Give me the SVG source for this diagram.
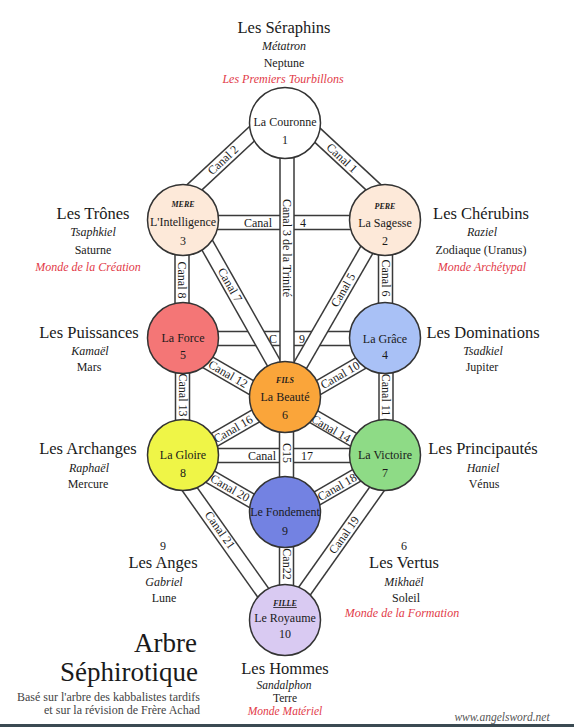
<svg xmlns="http://www.w3.org/2000/svg" xmlns:xlink="http://www.w3.org/1999/xlink" width="574" height="727" viewBox="0 0 574 727">
<style>
  text{font-family:"Liberation Serif","DejaVu Serif",serif;fill:#1a1a1a;text-anchor:middle}
  .edge{fill:none;stroke:#3a3a3a;stroke-width:15.5}
  .fill{fill:none;stroke:#fff;stroke-width:12.5}
  .cl{font-size:12px}
  .node circle{stroke:#333;stroke-width:1.5}
  .nl{font-size:12px}
  .sm{font-size:8px;font-style:italic;font-weight:bold}
  .h{font-size:16.5px}
  .t{font-size:12px}
  .b{font-size:11.5px}
  .it{font-style:italic}
  .red{fill:#e23a48;font-style:italic}
  .ttl{font-size:27px;text-anchor:end}
  .sub{font-size:12px;fill:#444;text-anchor:end}
  .url{font-size:11.5px;font-style:italic;fill:#555}
</style>
<defs>
  <path id="p1" d="M300 119L385 198"/>
  <path id="p2" d="M270 117L183 198"/>
  <path id="p3" d="M287 123V397"/>
  <path id="p4" d="M183 222.5H385"/>
  <path id="p5" d="M384 220L282 397"/>
  <path id="p6" d="M385.5 220V338"/>
  <path id="p7" d="M193 220L293 397"/>
  <path id="p8" d="M182 220V338"/>
  <path id="p9" d="M183 338.5H385"/>
  <path id="p10" d="M385 349L285 407"/>
  <path id="p11" d="M386 338V455"/>
  <path id="p12" d="M183 348L285 407"/>
  <path id="p13" d="M182.5 338V455"/>
  <path id="p14" d="M285 400L385 458"/>
  <path id="p15" d="M286.5 397V512"/>
  <path id="p16" d="M183 458L285 399"/>
  <path id="p17" d="M183 455.5H385"/>
  <path id="p18" d="M385 459L285 517"/>
  <path id="p19" d="M401 455L284 620"/>
  <path id="p20" d="M183 461L285 520"/>
  <path id="p21" d="M165.5 455L282.5 620"/>
  <path id="p22" d="M286.5 512V620"/>
</defs>
<rect width="574" height="727" fill="#fff"/>

<g id="connectors">
  <g id="canal-4"><use xlink:href="#p4" class="edge"/><use xlink:href="#p4" class="fill"/>
    <text class="cl" x="258" y="226.5">Canal</text><text class="cl" x="303" y="226.5">4</text></g>
  <g id="canal-9"><use xlink:href="#p9" class="edge"/><use xlink:href="#p9" class="fill"/>
    <text class="cl" x="273" y="342.5">C</text><text class="cl" x="302" y="342.5">9</text></g>
  <g id="canal-17"><use xlink:href="#p17" class="edge"/><use xlink:href="#p17" class="fill"/>
    <text class="cl" x="262" y="459.5">Canal</text><text class="cl" x="307" y="459.5">17</text></g>
  <g id="canal-1"><use xlink:href="#p1" class="edge"/><use xlink:href="#p1" class="fill"/>
    <text class="cl" transform="translate(342,158) rotate(43)" y="4">Canal 1</text></g>
  <g id="canal-2"><use xlink:href="#p2" class="edge"/><use xlink:href="#p2" class="fill"/>
    <text class="cl" transform="translate(223,160) rotate(-43)" y="4">Canal 2</text></g>
  <g id="canal-5"><use xlink:href="#p5" class="edge"/><use xlink:href="#p5" class="fill"/>
    <text class="cl" transform="translate(343,290) rotate(-60)" y="4">Canal 5</text></g>
  <g id="canal-7"><use xlink:href="#p7" class="edge"/><use xlink:href="#p7" class="fill"/>
    <text class="cl" transform="translate(230,285) rotate(60.5)" y="4">Canal 7</text></g>
  <g id="canal-10"><use xlink:href="#p10" class="edge"/><use xlink:href="#p10" class="fill"/>
    <text class="cl" transform="translate(340,375) rotate(-30)" y="4">Canal 10</text></g>
  <g id="canal-12"><use xlink:href="#p12" class="edge"/><use xlink:href="#p12" class="fill"/>
    <text class="cl" transform="translate(228,374) rotate(30)" y="4">Canal 12</text></g>
  <g id="canal-14"><use xlink:href="#p14" class="edge"/><use xlink:href="#p14" class="fill"/>
    <text class="cl" transform="translate(331,428.5) rotate(30)" y="4">Canal 14</text></g>
  <g id="canal-16"><use xlink:href="#p16" class="edge"/><use xlink:href="#p16" class="fill"/>
    <text class="cl" transform="translate(233,429) rotate(-30)" y="4">Canal 16</text></g>
  <g id="canal-18"><use xlink:href="#p18" class="edge"/><use xlink:href="#p18" class="fill"/>
    <text class="cl" transform="translate(337,487) rotate(-30)" y="4">Canal 18</text></g>
  <g id="canal-20"><use xlink:href="#p20" class="edge"/><use xlink:href="#p20" class="fill"/>
    <text class="cl" transform="translate(230,488) rotate(30)" y="4">Canal 20</text></g>
  <g id="canal-19"><use xlink:href="#p19" class="edge"/><use xlink:href="#p19" class="fill"/>
    <text class="cl" transform="translate(344,535) rotate(-54.7)" y="4">Canal 19</text></g>
  <g id="canal-21"><use xlink:href="#p21" class="edge"/><use xlink:href="#p21" class="fill"/>
    <text class="cl" transform="translate(220,530) rotate(54.7)" y="4">Canal 21</text></g>
  <g id="canal-3"><use xlink:href="#p3" class="edge"/><use xlink:href="#p3" class="fill"/>
    <text class="cl" transform="translate(287,248) rotate(90)" y="4">Canal 3 de la Trinité</text></g>
  <g id="canal-6"><use xlink:href="#p6" class="edge"/><use xlink:href="#p6" class="fill"/>
    <text class="cl" transform="translate(385.5,278) rotate(90)" y="4">Canal 6</text></g>
  <g id="canal-8"><use xlink:href="#p8" class="edge"/><use xlink:href="#p8" class="fill"/>
    <text class="cl" transform="translate(182,280) rotate(90)" y="4">Canal 8</text></g>
  <g id="canal-11"><use xlink:href="#p11" class="edge"/><use xlink:href="#p11" class="fill"/>
    <text class="cl" transform="translate(386,395) rotate(90)" y="4">Canal 11</text></g>
  <g id="canal-13"><use xlink:href="#p13" class="edge"/><use xlink:href="#p13" class="fill"/>
    <text class="cl" transform="translate(182.5,395) rotate(90)" y="4">Canal 13</text></g>
  <g id="canal-15"><use xlink:href="#p15" class="edge"/><use xlink:href="#p15" class="fill"/>
    <text class="cl" transform="translate(286.5,453) rotate(90)" y="4">C15</text></g>
  <g id="canal-22"><use xlink:href="#p22" class="edge"/><use xlink:href="#p22" class="fill"/>
    <text class="cl" transform="translate(286.5,564) rotate(90)" y="4">Can22</text></g>
</g>

<g id="n1" class="node"><circle cx="285" cy="123" r="35.5" fill="#ffffff"/>
  <text class="nl" x="285" y="126">La Couronne</text><text class="nl" x="285" y="144">1</text></g>
<g id="n3" class="node"><circle cx="183" cy="220" r="35.5" fill="#fde9d9"/>
  <text class="sm" x="183" y="207">MERE</text><text class="nl" x="183" y="226">L'Intelligence</text><text class="nl" x="183" y="245">3</text></g>
<g id="n2" class="node"><circle cx="385" cy="220" r="35.5" fill="#fde9d9"/>
  <text class="sm" x="385" y="209">PERE</text><text class="nl" x="385" y="227">La Sagesse</text><text class="nl" x="385" y="245">2</text></g>
<g id="n5" class="node"><circle cx="183" cy="338" r="35.5" fill="#f47676"/>
  <text class="nl" x="183" y="342">La Force</text><text class="nl" x="183" y="359">5</text></g>
<g id="n4" class="node"><circle cx="385" cy="338" r="35.5" fill="#a9c1f6"/>
  <text class="nl" x="385" y="343">La Grâce</text><text class="nl" x="385" y="359">4</text></g>
<g id="n6" class="node"><circle cx="285" cy="397" r="35.5" fill="#faa53a"/>
  <text class="sm" x="285" y="383">FILS</text><text class="nl" x="285" y="401">La Beauté</text><text class="nl" x="285" y="419">6</text></g>
<g id="n8" class="node"><circle cx="183" cy="455" r="35.5" fill="#eff547"/>
  <text class="nl" x="183" y="459">La Gloire</text><text class="nl" x="183" y="477">8</text></g>
<g id="n7" class="node"><circle cx="385" cy="455" r="35.5" fill="#8edb86"/>
  <text class="nl" x="385" y="459">La Victoire</text><text class="nl" x="385" y="477">7</text></g>
<g id="n9" class="node"><circle cx="285" cy="512" r="35.5" fill="#7382e2"/>
  <text class="nl" x="285" y="516" font-size="11.5">Le Fondement</text><text class="nl" x="285" y="535">9</text></g>
<g id="n10" class="node"><circle cx="285" cy="620" r="35.5" fill="#d9caf2"/>
  <text class="sm" x="285" y="606" text-decoration="underline">FILLE</text><text class="nl" x="285" y="622">Le Royaume</text><text class="nl" x="285" y="638">10</text></g>

<g id="labels">
  <g id="seraphins"><text class="h" x="284" y="33">Les Séraphins</text><text class="t it" x="284" y="50">Métatron</text><text class="t" x="284" y="67">Neptune</text><text class="t red" x="283" y="83">Les Premiers Tourbillons</text></g>
  <g id="trones"><text class="h" x="93" y="219">Les Trônes</text><text class="t it" x="93" y="236">Tsaphkiel</text><text class="t" x="93" y="254">Saturne</text><text class="t red" x="88" y="271">Monde de la Création</text></g>
  <g id="cherubins"><text class="h" x="481" y="219">Les Chérubins</text><text class="t it" x="482" y="236">Raziel</text><text class="t" x="481" y="254">Zodiaque (Uranus)</text><text class="t red" x="482" y="271">Monde Archétypal</text></g>
  <g id="puissances"><text class="h" x="89" y="338">Les Puissances</text><text class="t it" x="90" y="355">Kamaël</text><text class="t" x="89" y="371">Mars</text></g>
  <g id="dominations"><text class="h" x="483" y="338">Les Dominations</text><text class="t it" x="483" y="355">Tsadkiel</text><text class="t" x="482" y="371">Jupiter</text></g>
  <g id="archanges"><text class="h" x="88" y="454">Les Archanges</text><text class="t it" x="89" y="472">Raphaël</text><text class="t" x="88" y="488">Mercure</text></g>
  <g id="principautes"><text class="h" x="483" y="454">Les Principautés</text><text class="t it" x="483" y="472">Haniel</text><text class="t" x="484" y="488">Vénus</text></g>
  <g id="anges"><text class="t" x="163" y="550">9</text><text class="h" x="163" y="568">Les Anges</text><text class="t it" x="164" y="586">Gabriel</text><text class="t" x="164" y="602">Lune</text></g>
  <g id="vertus"><text class="t" x="404" y="550">6</text><text class="h" x="404" y="568">Les Vertus</text><text class="t it" x="404" y="586">Mikhaël</text><text class="t" x="406" y="602">Soleil</text><text class="t red" x="402" y="617">Monde de la Formation</text></g>
  <g id="hommes"><text class="h" x="285" y="674">Les Hommes</text><text class="b it" x="284" y="689">Sandalphon</text><text class="b" x="285" y="701.5">Terre</text><text class="b red" x="285" y="714.5">Monde Matériel</text></g>
</g>

<g id="title">
  <text class="ttl" x="197" y="652">Arbre</text>
  <text class="ttl" x="198" y="681">Séphirotique</text>
  <text class="sub" x="200" y="701">Basé sur l'arbre des kabbalistes tardifs</text>
  <text class="sub" x="200" y="714">et sur la révision de Frère Achad</text>
  <text class="url" x="502" y="721">www.angelsword.net</text>
</g>
<rect x="0" y="724" width="574" height="3" fill="#3b4a52"/>
</svg>
